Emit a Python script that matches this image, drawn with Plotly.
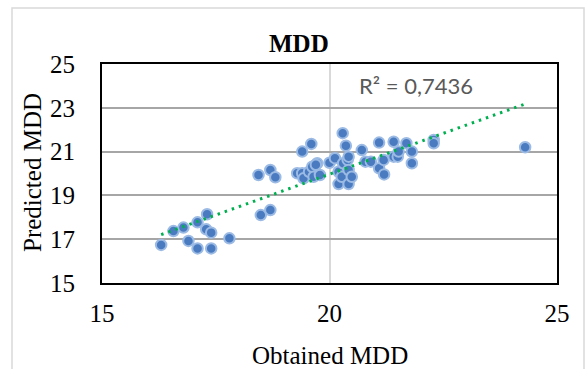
import plotly.graph_objects as go
import numpy as np

obtained = [16.30, 16.57, 16.79, 17.10, 17.31, 16.90, 17.10, 17.40, 17.29, 17.40,
            17.80, 18.49, 18.70, 18.44, 18.70, 18.81, 19.40, 19.60, 19.29, 19.40,
            19.43, 19.55, 19.62, 19.65, 19.73, 19.79, 20.00, 20.12, 20.20, 20.20,
            20.27, 20.29, 20.30, 20.36, 20.40, 20.42, 20.42, 20.42, 20.49, 20.71,
            20.79, 20.91, 21.09, 21.09, 21.20, 21.19, 21.41, 21.41, 21.50, 21.52,
            21.69, 21.81, 21.81, 22.29, 22.29, 24.30, 19.70]
predicted = [16.74, 17.37, 17.53, 17.77, 18.14, 16.92, 16.58, 16.58, 17.45, 17.30,
             17.04, 18.10, 18.33, 19.93, 20.16, 19.83, 21.00, 21.35, 20.01, 20.01,
             19.78, 20.08, 20.31, 19.85, 20.47, 19.93, 20.49, 20.70, 20.08, 19.52,
             19.85, 21.84, 20.47, 21.27, 20.62, 20.77, 20.16, 19.52, 19.85, 21.07,
             20.54, 20.54, 21.41, 20.24, 19.96, 20.62, 21.45, 20.77, 20.77, 21.00,
             21.38, 21.00, 20.47, 21.53, 21.38, 21.20, 20.40]

trend_slope = 0.7456
trend_intercept = 5.057
r2_label = "R² = 0,7436"
title_text = "MDD"
x_title = "Obtained MDD"
y_title = "Predicted MDD"
x_ticks = [15, 20, 25]
y_ticks = [15, 17, 19, 21, 23, 25]

tx = np.array([min(obtained), max(obtained)])
ty = trend_slope * tx + trend_intercept

# pixel layout helpers
L, R, T, B = 102, 557, 64, 283
W, H = 587, 369
def px(x):
    return (x - L) / (R - L)
def py(y):
    return (B - y) / (B - T)

fig = go.Figure()
fig.add_trace(go.Scatter(
    x=obtained, y=predicted, mode="markers",
    marker=dict(size=10.5, color="#4a7bc0",
                line=dict(width=2, color="rgba(155,186,228,1)")),
    showlegend=False, hoverinfo="x+y"))
fig.add_trace(go.Scatter(
    x=tx, y=ty, mode="lines",
    line=dict(color="#00B050", width=3, dash="2.5px,5px"),
    showlegend=False, hoverinfo="skip"))

serif = "Liberation Serif, Times New Roman, serif"
fig.update_layout(
    width=W, height=H,
    margin=dict(l=L, r=W - R, t=T, b=H - B),
    plot_bgcolor="white", paper_bgcolor="white",
    xaxis=dict(range=[15, 25], tickvals=x_ticks, showgrid=True,
               gridcolor="#d9d9d9", gridwidth=1.5, zeroline=False,
               showline=True, linecolor="black", linewidth=2, mirror=True,
               ticks="", ticklabelstandoff=7,
               tickfont=dict(family=serif, size=25, color="black")),
    yaxis=dict(range=[15, 25], tickvals=y_ticks, showgrid=True,
               gridcolor="#a6a6a6", gridwidth=1.5, zeroline=False,
               showline=True, linecolor="black", linewidth=2, mirror=True,
               ticks="", ticklabelstandoff=20,
               tickfont=dict(family=serif, size=25, color="black")),
    shapes=[dict(type="rect", xref="paper", yref="paper",
                 x0=px(12), x1=px(584), y0=py(380), y1=py(8),
                 line=dict(color="#d9d9d9", width=1.5), layer="below")],
    annotations=[
        dict(text="<b>" + title_text + "</b>", xref="paper", yref="paper",
             x=px(299), y=py(43), xanchor="center", yanchor="middle",
             showarrow=False, font=dict(family=serif, size=25, color="black")),
        dict(text=x_title, xref="paper", yref="paper",
             x=px(330), y=py(355), xanchor="center", yanchor="middle",
             showarrow=False, font=dict(family=serif, size=25, color="black")),
        dict(text=y_title, xref="paper", yref="paper", textangle=-90,
             x=px(32), y=py(173), xanchor="center", yanchor="middle",
             showarrow=False, font=dict(family=serif, size=25, color="black")),
        dict(text=r2_label, xref="paper", yref="paper",
             x=px(416), y=py(85), xanchor="center", yanchor="middle",
             showarrow=False, font=dict(family="Lato, Open Sans, sans-serif", size=22, color="#595959")),
    ],
)
fig.write_html("out.html", config={"displayModeBar": False},
               post_script="document.body.style.margin='0';document.body.style.overflow='hidden';")
